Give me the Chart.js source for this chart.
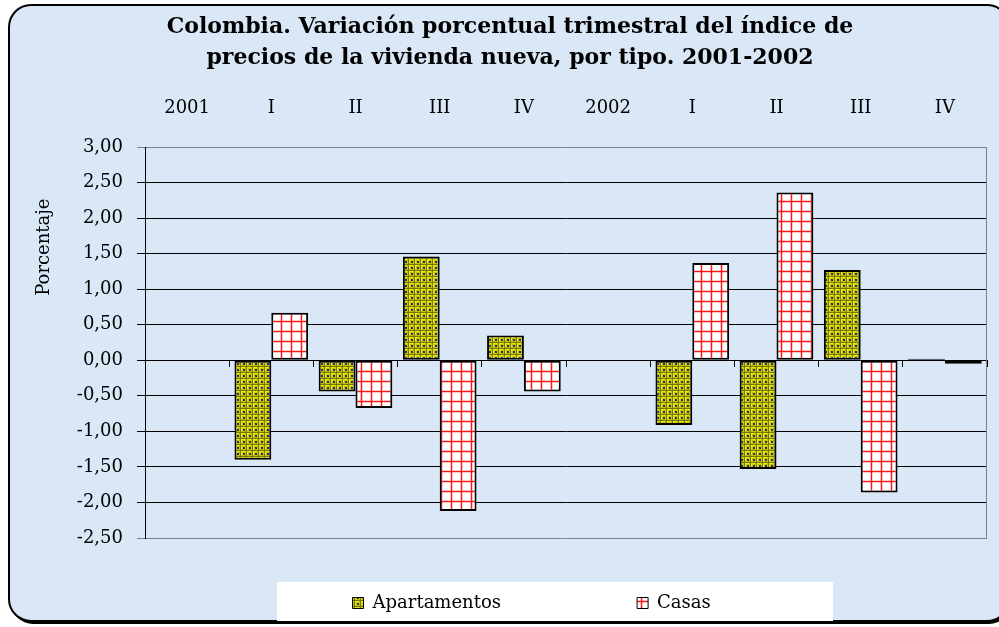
<!DOCTYPE html>
<html>
<head>
<meta charset="utf-8">
<script src="https://cdn.jsdelivr.net/npm/chart.js@4.4.1/dist/chart.umd.min.js"></script>
<style>
  html, body { margin: 0; padding: 0; background: #fff; }
  canvas { display: block; }
</style>
</head>
<body>
<canvas id="chart" width="999" height="627"></canvas>
<script>
//=========================================
// Data
//=========================================
const quarters = ["2001", "I", "II", "III", "IV", "2002", "I", "II", "III", "IV"];

const apartamentos = [null, -1.40, -0.44, 1.46, 0.35, null, -0.91, -1.53, 1.27, 0.02];

const casas = [null, 0.67, -0.67, -2.12, -0.44, null, 1.37, 2.36, -1.86, -0.05];

const seriesNames = ["Apartamentos", "Casas"];

const yTickValues = [-2.5, -2, -1.5, -1, -0.5, 0, 0.5, 1, 1.5, 2, 2.5, 3];

const titleLines = [
    "Colombia. Variación porcentual trimestral del índice de",
    "precios de la vivienda nueva, por tipo. 2001-2002"
];

const yTitle = "Porcentaje";

const FONT = '"DejaVu Serif", serif';

//------------------------------------
// Fill patterns
//------------------------------------
const canvas = document.getElementById("chart");
const ctx = canvas.getContext("2d");

function makePattern(size, paint){
    const c = document.createElement("canvas");
    c.width = size;
    c.height = size;
    paint(c.getContext("2d"));
    return ctx.createPattern(c, "repeat");
}

const aptFill = makePattern(6, g => {
    g.fillStyle = "#c6c600";
    g.fillRect(0, 0, 6, 6);
    g.fillStyle = "#eeee00";
    g.fillRect(1, 1, 4, 1);
    g.fillRect(1, 1, 1, 4);
    g.fillStyle = "#76760e";
    g.fillRect(0, 0, 6, 1);
    g.fillRect(0, 0, 1, 6);
    g.fillStyle = "#2c2c84";
    g.fillRect(3, 3, 2, 2);
});

const casasFill = makePattern(10, g => {
    g.fillStyle = "#ffffff";
    g.fillRect(0, 0, 10, 10);
    g.fillStyle = "rgba(255,70,70,0.3)";
    g.fillRect(0, 0, 10, 3);
    g.fillRect(0, 0, 3, 10);
    g.fillStyle = "rgba(255,0,0,0.9)";
    g.fillRect(0, 1, 10, 1);
    g.fillRect(1, 0, 1, 10);
});

// pad a label with trailing spaces up to a given width
function padText(text, font, width){
    ctx.save();
    ctx.font = font;
    let t = text;
    while (ctx.measureText(t + " ").width <= width) t += " ";
    ctx.restore();
    return t;
}

function padExtra(text, font, extra){
    ctx.save();
    ctx.font = font;
    const w = ctx.measureText(text).width;
    ctx.restore();
    return padText(text, font, w + extra);
}

const legendFont = '18px ' + FONT;
const legendWidths = [212, 126];

//------------------------------------
// Background, frame, legend box
//------------------------------------
const framePlugin = {
    id: "frame",
    beforeDraw(chart){
        const c = chart.ctx;
        c.save();
        c.fillStyle = "#ffffff";
        c.fillRect(0, 0, chart.width, chart.height);
        c.beginPath();
        c.roundRect(11, 7, 1000, 617, 22);
        c.fillStyle = "#000";
        c.fill();
        c.beginPath();
        c.roundRect(9, 5, 1000, 616, 22);
        c.fillStyle = "#dae7f6";
        c.fill();
        c.lineWidth = 2;
        c.strokeStyle = "#000";
        c.stroke();
        c.fillStyle = "#ffffff";
        c.fillRect(277, 582, 556, 39);
        c.restore();
    },
    beforeDatasetsDraw(chart){
        const a = chart.chartArea;
        const c = chart.ctx;
        c.save();
        c.strokeStyle = "#808080";
        c.lineWidth = 1;
        c.beginPath();
        c.moveTo(a.right - 0.5, a.top);
        c.lineTo(a.right - 0.5, a.bottom);
        c.stroke();
        c.restore();
    }
};

//------------------------------------
// Chart
//------------------------------------
const chart = new Chart(canvas, {
    type: "bar",
    data: {
        labels: quarters,
        datasets: [{
            label: seriesNames[0],
            data: apartamentos,
            backgroundColor: aptFill,
            borderColor: "#000",
            borderWidth: 2,
            borderSkipped: false
        }, {
            label: seriesNames[1],
            data: casas,
            backgroundColor: casasFill,
            borderColor: "#000",
            borderWidth: 2,
            borderSkipped: false
        }]
    },
    options: {
        responsive: false,
        devicePixelRatio: 1,
        animation: false,
        layout: { padding: { left: 33, right: 12, top: 0, bottom: 5 } },
        datasets: {
            bar: { categoryPercentage: 0.875, barPercentage: 1.0 }
        },
        plugins: {
            title: {
                display: true,
                text: titleLines,
                color: "#000",
                font: { family: FONT, size: 22, weight: "bold", lineHeight: "31px" },
                padding: { top: 12, bottom: 0 }
            },
            legend: {
                position: "bottom",
                fullSize: false,
                labels: {
                    color: "#000",
                    font: { family: FONT, size: 18 },
                    boxWidth: 11,
                    boxHeight: 11,
                    padding: 56,
                    generateLabels: ch => ch.data.datasets.map((ds, i) => ({
                        text: padText(ds.label, legendFont, legendWidths[i]),
                        fillStyle: ds.backgroundColor,
                        strokeStyle: "#000",
                        lineWidth: 1,
                        hidden: false,
                        datasetIndex: i
                    }))
                }
            },
            tooltip: { enabled: false }
        },
        scales: {
            x: {
                position: "top",
                grid: { display: false, drawTicks: false },
                border: { display: false },
                ticks: {
                    color: "#000",
                    font: { family: FONT, size: 18 },
                    padding: 28,
                    maxRotation: 0,
                    autoSkip: false
                },
                afterFit: scale => { scale.height = 73; }
            },
            x2: {
                axis: "x",
                type: "category",
                labels: quarters,
                offset: true,
                position: { y: 0 },
                grid: { offset: true, drawOnChartArea: false, tickLength: 6, color: "#000" },
                border: { color: "#000", width: 1 },
                ticks: { display: false }
            },
            y: {
                min: -2.5,
                max: 3,
                afterBuildTicks: scale => {
                    scale.ticks = yTickValues.map(v => ({ value: v }));
                },
                grid: {
                    color: c => (c.tick && (c.tick.value === 3 || c.tick.value === -2.5)) ? "#808080" : "#000",
                    tickLength: 8
                },
                border: { color: "#000", width: 1 },
                ticks: {
                    color: "#000",
                    font: { family: FONT, size: 18 },
                    padding: 14,
                    callback: v => v.toFixed(2).replace(".", ",")
                },
                title: {
                    display: true,
                    text: padExtra(yTitle, '18px ' + FONT, 53),
                    align: "end",
                    color: "#000",
                    font: { family: FONT, size: 18 },
                    padding: { top: 1, bottom: 0 }
                },
                afterFit: scale => { scale.width = 112; }
            }
        }
    },
    plugins: [framePlugin]
});
</script>
</body>
</html>
